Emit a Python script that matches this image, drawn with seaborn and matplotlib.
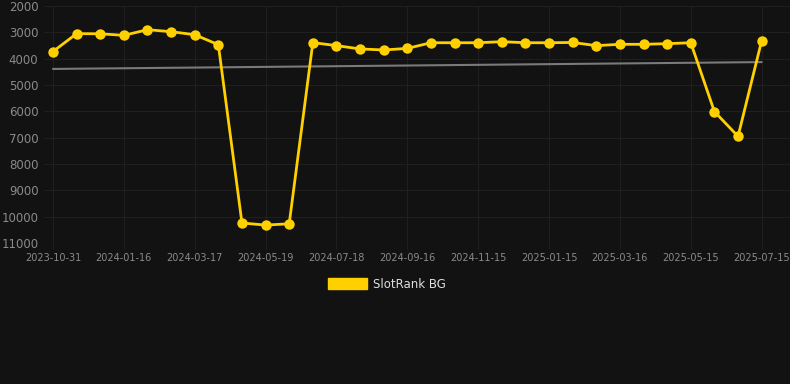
"""
SlotRank BG rank history chart, dark theme.
"""
import matplotlib
matplotlib.use("Agg")
import matplotlib.pyplot as plt
from matplotlib.patches import Patch
import seaborn as sns
import pandas as pd
import numpy as np

# --- data (rank, lower is better) ---
dates = [
    "2023-10-31", "2023-11-26", "2023-12-21", "2024-01-16", "2024-02-05", "2024-02-25",
    "2024-03-17", "2024-04-07", "2024-04-28", "2024-05-19", "2024-06-08", "2024-06-28",
    "2024-07-18", "2024-08-07", "2024-08-27", "2024-09-16", "2024-10-06", "2024-10-26",
    "2024-11-15", "2024-12-05", "2024-12-25", "2025-01-15", "2025-02-04", "2025-02-24",
    "2025-03-16", "2025-04-05", "2025-04-25", "2025-05-15", "2025-06-04", "2025-06-24",
    "2025-07-15",
]
ranks = [
    3730, 3050, 3055, 3115, 2900, 2975, 3090, 3470, 10240, 10320, 10270, 3390,
    3505, 3630, 3670, 3610, 3395, 3395, 3395, 3355, 3395, 3395, 3385, 3505,
    3455, 3455, 3430, 3395, 6010, 6950, 3320,
]
trend_start, trend_end = 4390, 4130
series_name = "SlotRank BG"

BG = "#121212"
YELLOW = "#FFD000"
GRID = "#1f1f1f"
TICK = "#8a8a8a"

df = pd.DataFrame({"idx": np.arange(len(dates)), "date": dates, "rank": ranks})

sns.set_theme(style="dark")
plt.rcParams["font.family"] = ["DejaVu Sans"]

fig = plt.figure(figsize=(7.9, 3.84), dpi=100, facecolor=BG)
ax = fig.add_axes([44 / 790, 1 - 243 / 384, 1 - 44 / 790, (243 - 6) / 384])
ax.set_facecolor(BG)

# trend line
ax.plot([df["idx"].iloc[0], df["idx"].iloc[-1]], [trend_start, trend_end],
        color="#7a7a7a", linewidth=1.5, zorder=2)

sns.lineplot(data=df, x="idx", y="rank", ax=ax, color=YELLOW, linewidth=2.0,
             marker="o", markersize=7.5, markeredgewidth=0, zorder=3)

ax.set_ylim(11000, 2000)
ax.set_yticks(np.arange(2000, 11001, 1000))
ax.set_xlim(-0.38, len(dates) - 1 + 1.2)
ax.set_xticks(df["idx"][::3])
ax.set_xticklabels(df["date"][::3])

ax.grid(True, color=GRID, linewidth=0.8)
ax.set_axisbelow(True)
for s in ax.spines.values():
    s.set_visible(False)
ax.tick_params(axis="y", colors=TICK, labelsize=8.5, length=0, pad=4)
ax.tick_params(axis="x", colors=TICK, labelsize=7, length=4, width=0.8, pad=3,
               color=GRID, direction="out")
ax.tick_params(axis="x", bottom=True)
ax.set_xlabel("")
ax.set_ylabel("")

fig.legend(handles=[Patch(facecolor=YELLOW, edgecolor=YELLOW, label=series_name)],
           loc="center", bbox_to_anchor=(0.49, 1 - 284 / 384), frameon=False,
           fontsize=8.5, labelcolor="#dddddd", handlelength=3.3, handleheight=1.0,
           handletextpad=0.5)

fig.savefig("out.png", dpi=100, facecolor=BG)
